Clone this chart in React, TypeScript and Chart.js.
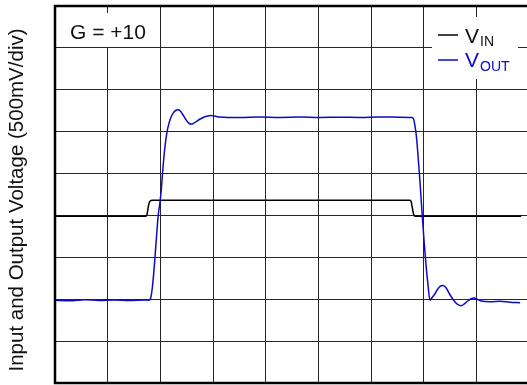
import React, { useEffect, useRef } from "react";
import { Chart, registerables } from "chart.js";

Chart.register(...registerables);

// Scope capture: time in horizontal divisions, voltage in vertical divisions (500 mV/div)
const voutTime = [
  0, 0.276, 0.561, 0.846, 1.131, 1.416, 1.702, 1.778, 1.816, 1.854, 1.892, 1.93, 1.958, 1.987,
  2.015, 2.044, 2.082, 2.125, 2.167, 2.215, 2.262, 2.31, 2.338, 2.376, 2.424, 2.481, 2.538,
  2.589, 2.633, 2.69, 2.747, 2.823, 2.899, 2.956, 3.032, 3.127, 3.508, 3.888, 4.268, 4.648,
  5.029, 5.409, 5.789, 6.169, 6.55, 6.778, 6.806, 6.835, 6.859, 6.892, 6.93, 6.968, 7.006,
  7.044, 7.082, 7.12, 7.158, 7.215, 7.272, 7.329, 7.373, 7.424, 7.5, 7.576, 7.652, 7.709,
  7.766, 7.842, 7.899, 7.956, 8.013, 8.09, 8.261, 8.451, 8.64, 8.831,
];
const voutLevel = [
  1.976, 1.964, 1.988, 1.969, 1.983, 1.967, 1.981, 1.976, 2.024, 2.346, 2.895, 3.539, 3.981,
  4.255, 4.566, 5.043, 5.568, 5.981, 6.212, 6.379, 6.475, 6.518, 6.523, 6.499, 6.415, 6.296,
  6.205, 6.181, 6.2, 6.248, 6.296, 6.344, 6.375, 6.387, 6.372, 6.348, 6.336, 6.351, 6.341,
  6.348, 6.339, 6.346, 6.341, 6.351, 6.344, 6.336, 6.308, 6.141, 5.926, 5.449, 4.804, 4.088,
  3.42, 2.823, 2.346, 1.976, 2.036, 2.131, 2.251, 2.323, 2.329, 2.274, 2.107, 1.964, 1.869,
  1.845, 1.881, 1.964, 2.012, 2.029, 2.0, 1.959, 1.94, 1.952, 1.928, 1.916,
];
const vinTime = [
  0, 1.721, 1.745, 1.762, 1.778, 1.797, 1.825, 1.854, 6.74, 6.764, 6.781, 6.797, 6.816, 6.844,
  8.85,
];
const vinLevel = [
  3.98, 3.98, 4.017, 4.136, 4.255, 4.327, 4.358, 4.363, 4.363, 4.327, 4.208, 4.089, 4.006,
  3.98, 3.98,
];

const X_DIVS = 9;
const Y_DIVS = 9;
const gainLabel = "G = +10";
const axisTitle = "Input and Output Voltage (500mV/div)";
const FONT = "'Liberation Sans', Arial, Helvetica, sans-serif";
const OUT_BLUE = "#0a0ac8";

const decorations = {
  id: "scopeDecorations",
  beforeDatasetsDraw(chart: Chart) {
    const ctx = chart.ctx;
    ctx.save();
    // gain note box
    ctx.fillStyle = "#fff";
    ctx.fillRect(62, 13, 94, 34);
    ctx.fillStyle = "#111";
    ctx.font = `21px ${FONT}`;
    ctx.textBaseline = "alphabetic";
    ctx.textAlign = "left";
    ctx.fillText(gainLabel, 70, 39);

    // legend box
    ctx.fillStyle = "#fff";
    ctx.fillRect(432, 17, 86, 62);
    ctx.lineWidth = 1.5;
    ctx.strokeStyle = "#000";
    ctx.beginPath();
    ctx.moveTo(438, 35);
    ctx.lineTo(458, 35);
    ctx.stroke();
    ctx.strokeStyle = OUT_BLUE;
    ctx.beginPath();
    ctx.moveTo(438, 60);
    ctx.lineTo(458, 60);
    ctx.stroke();

    ctx.fillStyle = "#111";
    ctx.font = `21px ${FONT}`;
    ctx.fillText("V", 465, 43);
    ctx.font = `14px ${FONT}`;
    ctx.fillText("IN", 480, 46);
    ctx.fillStyle = OUT_BLUE;
    ctx.font = `21px ${FONT}`;
    ctx.fillText("V", 465, 67);
    ctx.font = `14px ${FONT}`;
    ctx.fillText("OUT", 480, 71);
    ctx.restore();
  },
  afterDraw(chart: Chart) {
    const ctx = chart.ctx;
    const a = chart.chartArea;
    ctx.save();
    ctx.strokeStyle = "#000";
    ctx.lineWidth = 2.5;
    ctx.strokeRect(a.left, a.top, a.right - a.left, a.bottom - a.top);

    // vertical axis title
    ctx.translate(17, 200);
    ctx.rotate(-Math.PI / 2);
    ctx.fillStyle = "#111";
    ctx.font = `20.5px ${FONT}`;
    ctx.textAlign = "center";
    ctx.textBaseline = "middle";
    ctx.fillText(axisTitle, 0, 0);
    ctx.restore();
  },
};

export default function App() {
  const ref = useRef<HTMLCanvasElement>(null);

  useEffect(() => {
    const canvas = ref.current;
    if (!canvas) return;
    const gridScale = (max: number) => ({
      type: "linear" as const,
      min: 0,
      max,
      ticks: { display: false, stepSize: 1 },
      grid: { color: "#262626", lineWidth: 1, drawTicks: false },
      border: { display: false },
    });
    const chart = new Chart(canvas, {
      type: "line",
      data: {
        datasets: [
          {
            label: "VOUT",
            data: voutTime.map((t, i) => ({ x: t, y: voutLevel[i] })),
            borderColor: OUT_BLUE,
            borderWidth: 1.5,
            pointRadius: 0,
            cubicInterpolationMode: "monotone",
          },
          {
            label: "VIN",
            data: vinTime.map((t, i) => ({ x: t, y: vinLevel[i] })),
            borderColor: "#000",
            borderWidth: 1.5,
            pointRadius: 0,
            cubicInterpolationMode: "monotone",
          },
        ],
      },
      options: {
        responsive: false,
        animation: false,
        devicePixelRatio: 1,
        layout: { padding: { left: 55, top: 6, right: 16, bottom: 2 } },
        plugins: { legend: { display: false }, tooltip: { enabled: false } },
        scales: { x: gridScale(X_DIVS), y: gridScale(Y_DIVS) },
      },
      plugins: [decorations],
    });
    return () => chart.destroy();
  }, []);

  return (
    <div
      style={{
        position: "fixed",
        left: 0,
        top: 0,
        width: 527,
        height: 385,
        overflow: "hidden",
        background: "#fff",
      }}
    >
      <canvas ref={ref} width={545} height={385} style={{ display: "block" }} />
    </div>
  );
}
